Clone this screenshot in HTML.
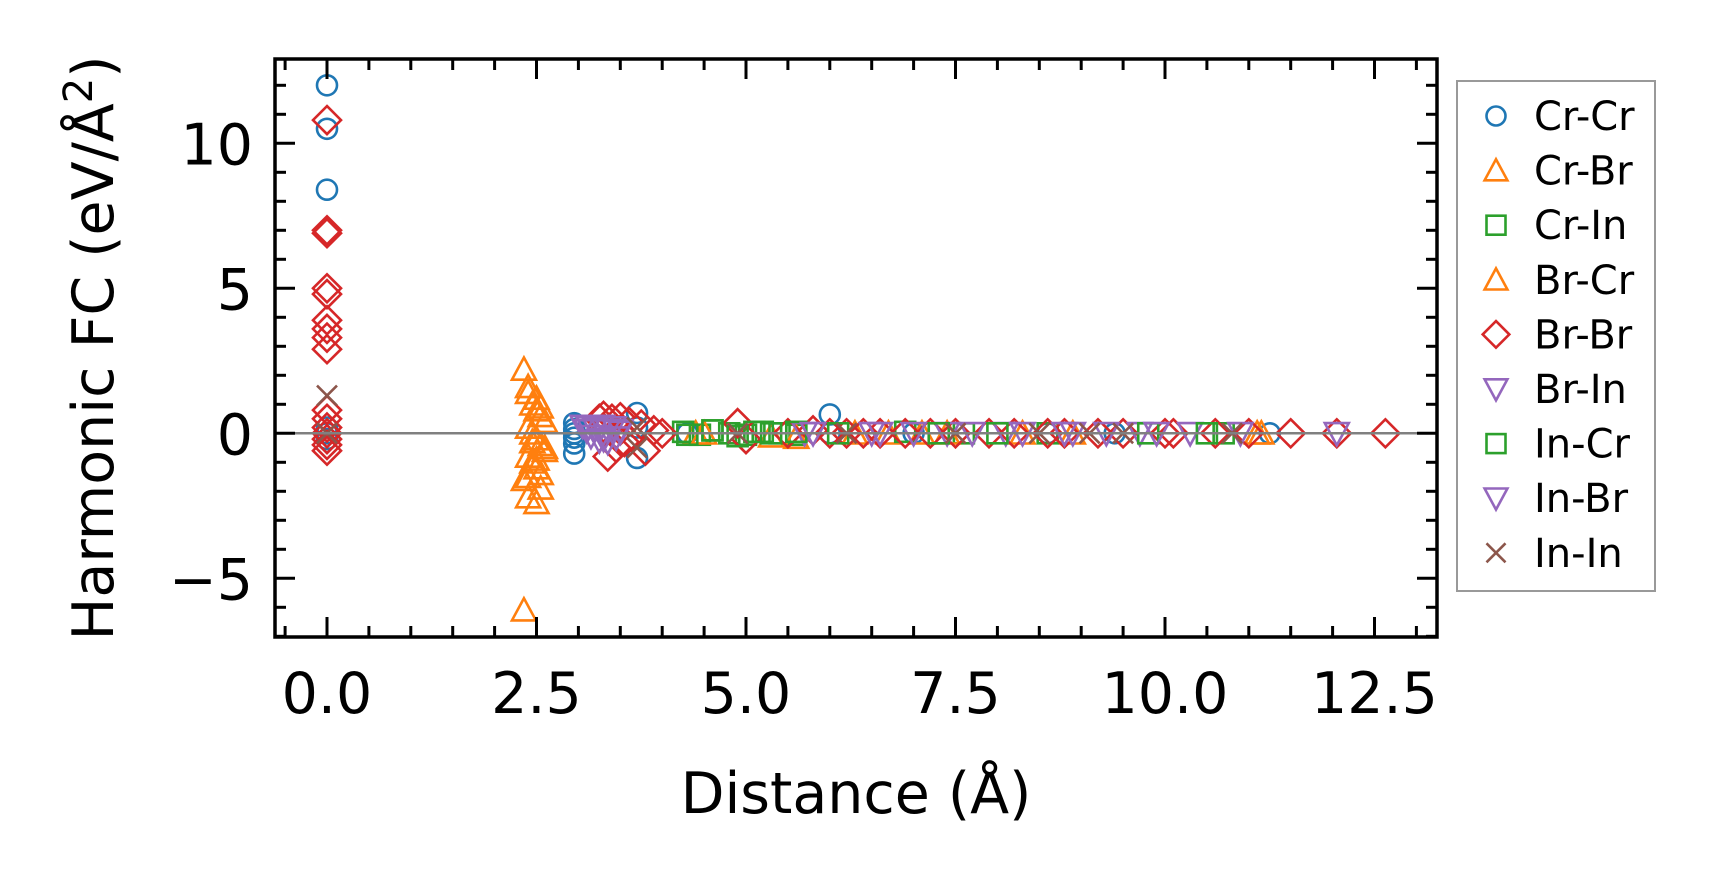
<!DOCTYPE html>
<html><head><meta charset="utf-8"><style>
html,body{margin:0;padding:0;background:#fff;}
svg{display:block;font-family:"DejaVu Sans","Liberation Sans",sans-serif;}
</style></head><body>
<svg id="chart" width="1714" height="883" viewBox="0 0 1714 883" xmlns="http://www.w3.org/2000/svg">
<rect width="1714" height="883" fill="#fff"/>
<g id="marks"></g>
<line id="zero-line" x1="275" x2="1437" y1="433.3" y2="433.3" stroke="#808080" stroke-width="2.5"/>
<g id="axes"></g>
<text x="856" y="813" font-size="57" text-anchor="middle">Distance (Å)</text>
<text transform="translate(113,348) rotate(-90)" font-size="57" text-anchor="middle">Harmonic FC (eV/Å<tspan font-size="40" dy="-21">2</tspan><tspan dy="21">)</tspan></text>
<g id="legend"></g>
</svg>
<script>
const seriesNames=["Cr-Cr","Cr-Br","Cr-In","Br-Cr","Br-Br","Br-In","In-Cr","In-Br","In-In"];
const seriesColors=["#1f77b4","#ff7f0e","#2ca02c","#ff7f0e","#d62728","#9467bd","#2ca02c","#9467bd","#8c564b"];
const seriesMarkers=["o","^","s","^","D","v","s","v","x"];
const crcrX=[0,0,0,0,0,0,2.95,2.95,2.95,2.95,2.95,2.95,3.7,3.7,3.7,4.3,6.0,6.0,7.0,8.6,9.4,11.25];
const crcrY=[12.0,10.5,8.4,0.2,0,-0.2,0.35,0.15,0,-0.15,-0.35,-0.7,0.7,-0.85,0.2,0,0.65,0,0,0,0,0];
const crbrX=[2.35,2.4,2.45,2.5,2.55,2.6,2.4,2.45,2.5,2.55,2.6,2.4,2.45,2.5,2.55,2.35,2.4,2.5,2.35,4.4,5.3,6.7,7.1,8.9,11.1];
const crbrY=[2.2,1.4,1.0,0.8,0.6,0.4,0.2,0,-0.2,-0.4,-0.6,-0.8,-1.0,-1.2,-1.4,-1.6,-2.2,-2.4,-6.1,0,-0.1,0,0,0,0];
const crinX=[4.25,4.45,4.6,4.8,5.0,5.2,5.4,5.6,6.9,7.6,8.6,10.7];
const crinY=[0.05,-0.05,0.1,0,-0.05,0.05,0,-0.05,0.05,0,0,0];
const brcrX=[2.4,2.5,2.55,2.45,2.6,2.5,2.4,2.55,4.5,5.6,6.3,7.4,8.3,11.15];
const brcrY=[1.6,1.2,0.9,-0.3,-0.5,-0.9,-1.5,-1.9,0,-0.15,0,0,0,0];
const brbrX=[0,0,0,0,0,0,0,0,0,0,0,0,0,0,0,0,3.25,3.3,3.4,3.5,3.6,3.35,3.45,3.55,3.3,3.5,3.75,3.8,3.9,4.0,4.9,5.0,5.5,5.8,6.0,6.2,6.4,6.6,6.9,7.2,7.5,7.9,8.2,8.6,8.8,9.2,9.5,10.0,10.1,10.6,11.0,11.5,12.05,12.63];
const brbrY=[10.8,7.0,6.9,5.0,4.8,3.9,3.6,3.3,2.9,0.8,0.5,0.2,0,-0.2,-0.4,-0.6,0.5,0.6,0.5,0.55,0.4,-0.8,-0.5,-0.3,0.2,0.1,0.3,-0.6,0.1,0,0.35,-0.2,0,0.1,0,0,0,0,0,0,0,0,0,0,0,0,0,0,0,0,0,0,0,0];
const brinX=[3.05,3.12,3.2,3.28,3.35,3.42,3.5,3.15,3.25,3.35,3.45,5.7,6.6,7.4,8.1,8.9,9.7,10.3,10.9,12.05];
const brinY=[0.25,0.2,0.15,0.25,0.1,0.2,0.1,-0.1,-0.25,-0.3,-0.15,0,0,0,0,0,0,0,0,0];
const incrX=[4.3,4.6,4.9,5.1,5.3,5.6,6.1,7.3,8.0,9.8,10.5];
const incrY=[-0.05,0.1,-0.1,0.05,0,0.05,0,0,0,0,0];
const inbrX=[3.1,3.3,3.5,5.8,6.5,7.0,7.7,8.3,8.8,9.3,9.9];
const inbrY=[0.1,-0.2,0.05,0,0,0,0,0,0,0,0];
const ininX=[0,0,3.7,3.7,4.9,6.2,7.5,8.5,9.1,9.5,10.8];
const ininY=[1.3,0,0.2,-0.5,0,0,0,0,0,0,0];
const seriesX=[crcrX,crbrX,crinX,brcrX,brbrX,brinX,incrX,inbrX,ininX];
const seriesY=[crcrY,crbrY,crinY,brcrY,brbrY,brinY,incrY,inbrY,ininY];
const xTicks=[0,2.5,5,7.5,10,12.5];
const xTickLabels=["0.0","2.5","5.0","7.5","10.0","12.5"];
const yTicks=[-5,0,5,10];
const yTickLabels=["\u22125","0","5","10"];

const NS="http://www.w3.org/2000/svg";
const L=275,R=1437,T=59,B=637;
const xs=v=>327+v*83.8;
const ys=v=>433.3-v*29;
function mk(tag,attrs,parent){const e=document.createElementNS(NS,tag);for(const k in attrs)e.setAttribute(k,attrs[k]);parent.appendChild(e);return e;}
function marker(type,cx,cy,color,parent,scale){
  const s=scale||1,sw=2.6;let e;
  if(type==="o"){e=mk("circle",{cx:cx,cy:cy,r:10*s,fill:"none",stroke:color,"stroke-width":sw},parent);}
  else if(type==="^"){const h=12*s;e=mk("polygon",{points:`${cx},${cy-h} ${cx-h},${cy+h*0.85} ${cx+h},${cy+h*0.85}`,fill:"none",stroke:color,"stroke-width":sw},parent);}
  else if(type==="v"){const h=12*s;e=mk("polygon",{points:`${cx},${cy+h} ${cx-h},${cy-h*0.85} ${cx+h},${cy-h*0.85}`,fill:"none",stroke:color,"stroke-width":sw},parent);}
  else if(type==="s"){const h=10*s;e=mk("rect",{x:cx-h,y:cy-h,width:2*h,height:2*h,fill:"none",stroke:color,"stroke-width":sw},parent);}
  else if(type==="D"){const h=14*s;e=mk("polygon",{points:`${cx},${cy-h} ${cx+h},${cy} ${cx},${cy+h} ${cx-h},${cy}`,fill:"none",stroke:color,"stroke-width":sw},parent);}
  else {const h=10*s;e=mk("path",{d:`M${cx-h},${cy-h}L${cx+h},${cy+h}M${cx-h},${cy+h}L${cx+h},${cy-h}`,fill:"none",stroke:color,"stroke-width":sw},parent);}
  return e;
}
const marks=document.getElementById("marks");
seriesNames.forEach((name,i)=>{
  const g=mk("g",{},marks);
  
  
  seriesX[i].forEach((x,j)=>{
    const e=marker(seriesMarkers[i],xs(x),ys(seriesY[i][j]),seriesColors[i],g);
    
    
  });
});
const axes=document.getElementById("axes");
const frame=mk("rect",{x:L,y:T,width:R-L,height:B-T,fill:"none",stroke:"#000","stroke-width":3.5},axes);


for(let v=-0.5;v<=13.2;v+=0.5){
  const x=xs(v);if(x<L||x>R)continue;
  const major=xTicks.some(t=>Math.abs(t-v)<1e-6);const len=major?20:11;
  const t1=mk("line",{x1:x,x2:x,y1:B,y2:B-len,stroke:"#000","stroke-width":3},axes);
  
  
  mk("line",{x1:x,x2:x,y1:T,y2:T+len,stroke:"#000","stroke-width":3},axes);
}
for(let v=-7;v<=12;v+=1){
  const y=ys(v);if(y<T||y>B)continue;
  const major=yTicks.includes(v);const len=major?20:11;
  const t1=mk("line",{x1:L,x2:L+len,y1:y,y2:y,stroke:"#000","stroke-width":3},axes);
  
  
  mk("line",{x1:R,x2:R-len,y1:y,y2:y,stroke:"#000","stroke-width":3},axes);
}
xTicks.forEach((v,i)=>{
  const t=mk("text",{x:xs(v),y:713,"font-size":57,"text-anchor":"middle"},axes);
  t.textContent=xTickLabels[i];
  
  
});
yTicks.forEach((v,i)=>{
  const t=mk("text",{x:253,y:ys(v)+21,"font-size":57,"text-anchor":"end"},axes);
  t.textContent=yTickLabels[i];
  
  
});
const leg=document.getElementById("legend");
const lb=mk("rect",{x:1457,y:81,width:198,height:510,fill:"#fff",stroke:"#999","stroke-width":2},leg);


seriesNames.forEach((name,i)=>{
  const g=mk("g",{},leg);
  
  
  const cy=116+i*54.6;
  marker(seriesMarkers[i],1496,cy,seriesColors[i],g,0.95);
  const t=mk("text",{x:1534,y:cy+14,"font-size":40},g);
  t.textContent=name;
});
</script>
</body></html>
